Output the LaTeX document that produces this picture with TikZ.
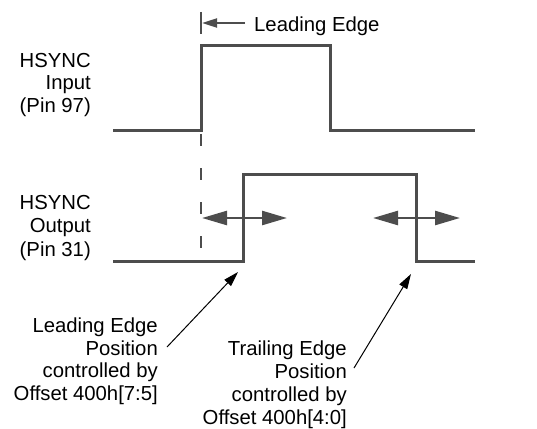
\documentclass[tikz,border=0pt]{standalone}
\usepackage{fontspec}
\setmainfont{Liberation Sans}
\usetikzlibrary{arrows.meta}
\definecolor{sigcol}{HTML}{4D4D4D}
\begin{document}
\begin{tikzpicture}[x=1pt,y=-1pt,
  sig/.style={line width=3pt, draw=sigcol, line join=miter},
  dbl/.style={line width=2.5pt, draw=sigcol, fill=sigcol,
    {Triangle[length=25pt,width=14pt]}-{Triangle[length=25pt,width=14pt]}},
  ptr/.style={line width=1pt, draw=black, -{Triangle[length=15pt,width=9pt]}},
  thinmark/.style={line width=2pt, draw=sigcol},
  lbl/.style={inner sep=0pt, align=right, font=\fontsize{20.3}{22.5}\selectfont},
]
\useasboundingbox (0,0) rectangle (537,428);

% input waveform
\coordinate (i0) at (113,130);
\coordinate (i1) at (201,130);
\coordinate (i2) at (201,46);
\coordinate (i3) at (330,46);
\coordinate (i4) at (330,130);
\coordinate (i5) at (475,130);
\draw[sig] (i0) -- (i1) -- (i2) -- (i3) -- (i4) -- (i5);

% output waveform
\coordinate (o0) at (113,261);
\coordinate (o1) at (243,261);
\coordinate (o2) at (243,174);
\coordinate (o3) at (416,174);
\coordinate (o4) at (416,261);
\coordinate (o5) at (475,261);
\draw[sig] (o0) -- (o1) -- (o2) -- (o3) -- (o4) -- (o5);

% dashed reference line
\coordinate (d0) at (201,134);
\coordinate (d1) at (201,250);
\draw[thinmark, dash pattern=on 12pt off 22pt] (d0) -- (d1);

% leading edge marker
\coordinate (m0) at (201,12);
\coordinate (m1) at (201,34);
\draw[thinmark] (m0) -- (m1);
\coordinate (ma) at (245,23);
\coordinate (mb) at (202,23);
\draw[thinmark, fill=sigcol, -{Triangle[length=15pt,width=9pt]}] (ma) -- (mb);
\node[lbl, anchor=base west] (lead) at (254,31) {Leading Edge};

% double arrows
\coordinate (a0) at (202,218);
\coordinate (a1) at (287,218);
\draw[dbl] (a0) -- (a1);
\coordinate (b0) at (373,218);
\coordinate (b1) at (460,218);
\draw[dbl] (b0) -- (b1);

% signal labels (base anchor = last line baseline)
\node[lbl, anchor=base east] (inlab) at (91,112) {HSYNC\\Input\\(Pin 97)};
\node[lbl, anchor=base east, font=\fontsize{20.3}{23.5}\selectfont] (outlab) at (91,256) {HSYNC\\Output\\(Pin 31)};

% bottom labels
\node[lbl, anchor=base east] (ltxt) at (158,400) {Leading Edge\\Position\\controlled by\\Offset 400h[7:5]};
\node[lbl, anchor=base east, font=\fontsize{20.3}{23}\selectfont] (ttxt) at (347,424) {Trailing Edge\\Position\\controlled by\\Offset 400h[4:0]};

\coordinate (ls) at (167,347);
\coordinate (lt) at (238,272);
\draw[ptr] (ls) -- (lt);
\coordinate (ts) at (354,368);
\coordinate (tt) at (411,274);
\draw[ptr] (ts) -- (tt);
\end{tikzpicture}
\end{document}
